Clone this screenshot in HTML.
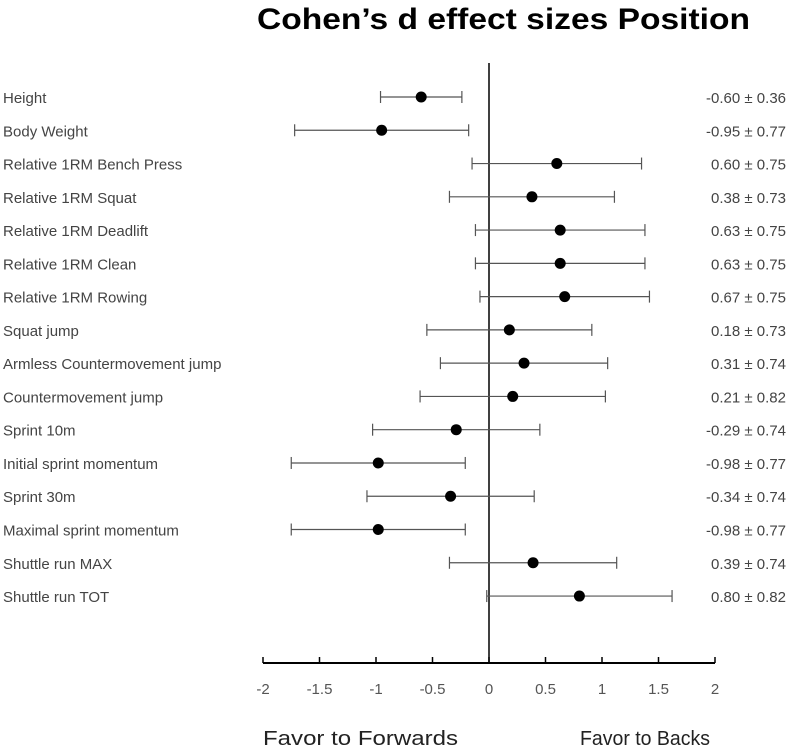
<!DOCTYPE html>
<html><head><meta charset="utf-8"><style>
body{margin:0;background:#fff;}
svg{display:block;font-family:"Liberation Sans",sans-serif;}
</style></head><body>
<svg id="chart" width="791" height="747" viewBox="0 0 791 747"></svg>
<script>
const categories=["Height","Body Weight","Relative 1RM Bench Press","Relative 1RM Squat","Relative 1RM Deadlift","Relative 1RM Clean","Relative 1RM Rowing","Squat jump","Armless Countermovement jump","Countermovement jump","Sprint 10m","Initial sprint momentum","Sprint 30m","Maximal sprint momentum","Shuttle run MAX","Shuttle run TOT"];
const means=[-0.60,-0.95,0.60,0.38,0.63,0.63,0.67,0.18,0.31,0.21,-0.29,-0.98,-0.34,-0.98,0.39,0.80];
const errors=[0.36,0.77,0.75,0.73,0.75,0.75,0.75,0.73,0.74,0.82,0.74,0.77,0.74,0.77,0.74,0.82];
const ticks=[-2,-1.5,-1,-0.5,0,0.5,1,1.5,2];
const NS="http://www.w3.org/2000/svg";
const svg=document.getElementById('chart');
const x=v=>489+v*113;
const y=i=>97+i*33.27;
function mk(t,a,txt){const e=document.createElementNS(NS,t);for(const k in a)e.setAttribute(k,a[k]);if(txt!==undefined)e.textContent=txt;svg.appendChild(e);return e;}
let e;
e=mk('text',{x:257,y:29,'font-size':30,'font-weight':'bold',fill:'#000',textLength:493,lengthAdjust:'spacingAndGlyphs'},'Cohen’s d effect sizes Position');


e=mk('line',{x1:x(0),x2:x(0),y1:63,y2:663,stroke:'#000','stroke-width':1.5});


e=mk('line',{x1:x(-2),x2:x(2),y1:663,y2:663,stroke:'#000','stroke-width':2});


ticks.forEach(t=>{
  e=mk('line',{x1:x(t),x2:x(t),y1:657,y2:663,stroke:'#000','stroke-width':1.5});
  
  
  e=mk('text',{x:x(t),y:694,'text-anchor':'middle','font-size':15,fill:'#555'},String(t));
  
  
});
categories.forEach((c,i)=>{
  const yy=y(i);
  e=mk('text',{x:3,y:yy+6,'font-size':15,fill:'#444'},c);
  
  
  const lo=x(means[i]-errors[i]),hi=x(means[i]+errors[i]);
  e=mk('line',{x1:lo,x2:hi,y1:yy,y2:yy,stroke:'#555','stroke-width':1.2});
  
  
  [lo,hi].forEach(p=>{e=mk('line',{x1:p,x2:p,y1:yy-6,y2:yy+6,stroke:'#555','stroke-width':1.2});
    
    });
  e=mk('circle',{cx:x(means[i]),cy:yy,r:5.5,fill:'#000'});
  
  
  e=mk('text',{x:786,y:yy+6,'text-anchor':'end','font-size':15,fill:'#444'},means[i].toFixed(2)+' ± '+errors[i].toFixed(2));
  
  
});
e=mk('text',{x:263,y:745,'font-size':20,fill:'#222',textLength:195,lengthAdjust:'spacingAndGlyphs'},'Favor to Forwards');


e=mk('text',{x:580,y:745,'font-size':20,fill:'#222',textLength:130,lengthAdjust:'spacingAndGlyphs'},'Favor to Backs');


</script>
</body></html>
